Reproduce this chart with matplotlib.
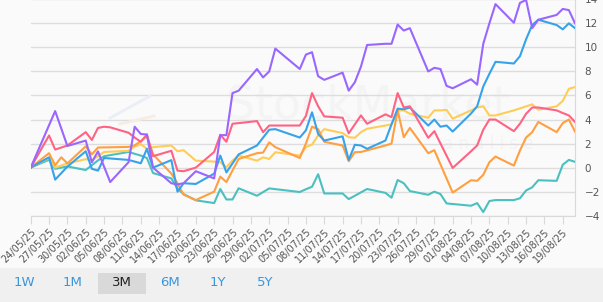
import numpy as np
import pandas as pd
import matplotlib
matplotlib.use("Agg")
import matplotlib.pyplot as plt
from matplotlib.patches import Rectangle
from matplotlib.lines import Line2D

# Dados (variação %), datas dd/mm de 2025
roxo_datas = ["24/05", "28/05", "30/05", "02/06", "03/06", "04/06", "06/06", "09/06", "10/06", "11/06",
              "12/06", "13/06", "16/06", "17/06", "18/06", "20/06", "23/06", "24/06", "25/06", "26/06",
              "27/06", "30/06", "01/07", "02/07", "03/07", "07/07", "08/07", "09/07", "10/07", "11/07",
              "14/07", "15/07", "16/07", "17/07", "18/07", "21/07", "22/07", "23/07", "24/07", "25/07",
              "28/07", "29/07", "30/07", "31/07", "01/08", "04/08", "05/08", "06/08", "07/08", "08/08",
              "11/08", "12/08", "13/08", "14/08", "15/08", "18/08", "19/08", "20/08", "21/08"]
roxo = [0, 4.7, 1.8, 2.25, 0.45, 1.35, -1.2, 0.45, 3.4, 2.8,
        2.75, 0.0, -1.3, -1.4, -1.3, -0.3, -0.9, 2.7, 2.7, 6.2,
        6.4, 8.2, 7.5, 8.0, 9.9, 8.2, 9.4, 9.6, 7.6, 7.3,
        7.9, 6.4, 7.1, 8.4, 10.2, 10.3, 10.3, 11.9, 11.4, 11.6,
        8.0, 8.3, 8.2, 6.8, 6.6, 7.35, 6.9, 10.3, 12.0, 13.6,
        12.05, 13.7, 13.95, 11.6, 12.3, 12.7, 13.2, 13.1, 12.0]

azul_datas = ["24/05", "27/05", "28/05", "30/05", "02/06", "03/06", "04/06", "05/06", "09/06", "11/06",
              "12/06", "13/06", "16/06", "17/06", "18/06", "20/06", "23/06", "24/06", "25/06", "27/06",
              "30/06", "02/07", "03/07", "07/07", "08/07", "09/07", "10/07", "11/07", "14/07", "15/07",
              "16/07", "17/07", "18/07", "21/07", "22/07", "23/07", "24/07", "25/07", "28/07", "29/07",
              "30/07", "31/07", "01/08", "04/08", "05/08", "06/08", "07/08", "08/08", "11/08", "12/08",
              "13/08", "14/08", "15/08", "18/08", "19/08", "20/08", "21/08"]
azul = [0, 0.86, -1.0, 0.08, 1.36, -0.1, -0.25, 0.8, 0.64, 0.36,
        1.56, 0.0, 0.62, -2.0, -1.3, -1.36, -0.5, 1.0, -0.4, 1.1,
        1.84, 3.15, 3.2, 2.5, 3.1, 4.6, 2.8, 2.25, 2.6, 0.64,
        1.9, 1.84, 1.56, 2.25, 3.6, 4.9, 4.85, 5.0, 3.5, 4.0,
        3.4, 3.5, 3.0, 4.5, 5.1, 6.75, 7.8, 8.8, 8.66, 9.27,
        10.67, 11.86, 12.3, 11.86, 11.5, 12.0, 11.6]

rosa_datas = ["24/05", "27/05", "28/05", "30/05", "02/06", "03/06", "04/06", "05/06", "06/06", "09/06",
              "10/06", "11/06", "12/06", "13/06", "16/06", "17/06", "18/06", "20/06", "23/06", "24/06",
              "25/06", "26/06", "27/06", "30/06", "01/07", "02/07", "07/07", "08/07", "09/07", "10/07",
              "11/07", "14/07", "15/07", "17/07", "18/07", "21/07", "22/07", "23/07", "24/07", "25/07",
              "28/07", "29/07", "01/08", "04/08", "05/08", "06/08", "07/08", "08/08", "11/08", "12/08",
              "13/08", "14/08", "15/08", "18/08", "19/08", "20/08", "21/08"]
rosa = [0, 2.67, 1.5, 1.84, 2.95, 2.3, 3.3, 3.4, 3.35, 2.9,
        2.5, 2.15, 2.76, 0.95, 1.4, -0.25, -0.3, 0.0, 1.3, 2.73,
        2.15, 3.65, 3.7, 3.87, 2.95, 3.5, 3.5, 4.3, 6.2, 5.1,
        4.26, 4.15, 2.85, 4.34, 3.65, 4.43, 4.2, 6.2, 5.0, 5.1,
        2.48, 3.03, -0.03, 1.36, 1.84, 3.15, 4.0, 4.0, 3.03, 3.65,
        4.48, 5.0, 5.0, 4.76, 4.54, 4.34, 3.8]

laranja_datas = ["24/05", "27/05", "28/05", "29/05", "30/05", "02/06", "03/06", "04/06", "09/06", "10/06",
                 "11/06", "12/06", "13/06", "16/06", "17/06", "18/06", "20/06", "23/06", "24/06", "25/06",
                 "27/06", "30/06", "01/07", "02/07", "03/07", "07/07", "08/07", "09/07", "10/07", "11/07",
                 "14/07", "15/07", "16/07", "17/07", "21/07", "22/07", "23/07", "24/07", "25/07", "28/07",
                 "29/07", "01/08", "04/08", "05/08", "06/08", "07/08", "08/08", "11/08", "12/08", "13/08",
                 "14/08", "15/08", "18/08", "19/08", "20/08", "21/08"]
laranja = [0, 1.2, 0.2, 0.86, 0.35, 1.77, 1.1, 1.67, 1.72, 1.85,
           2.2, 2.6, 1.1, -0.5, -1.3, -2.25, -2.7, -2.0, -0.75, -1.2,
           0.72, 1.2, 1.25, 2.1, 1.7, 0.8, 2.0, 3.4, 3.2, 2.15,
           1.84, 0.53, 1.28, 1.3, 1.84, 2.0, 4.76, 2.53, 3.3, 1.2,
           1.45, -2.08, -1.05, -1.1, -0.6, 0.45, 0.92, 0.17, 1.42, 2.5,
           2.95, 3.8, 2.95, 3.7, 4.0, 3.0]

amarelo_datas = ["24/05", "27/05", "28/05", "30/05", "02/06", "03/06", "05/06", "09/06", "10/06", "11/06",
                 "12/06", "13/06", "16/06", "17/06", "18/06", "20/06", "23/06", "24/06", "25/06", "26/06",
                 "27/06", "30/06", "01/07", "02/07", "03/07", "07/07", "08/07", "09/07", "10/07", "11/07",
                 "14/07", "15/07", "16/07", "17/07", "18/07", "21/07", "22/07", "23/07", "24/07", "25/07",
                 "28/07", "29/07", "30/07", "31/07", "01/08", "04/08", "05/08", "06/08", "07/08", "08/08",
                 "11/08", "14/08", "15/08", "18/08", "19/08", "20/08", "21/08"]
amarelo = [0, 0.8, 0.0, 0.35, 0.7, 0.6, 1.3, 1.4, 1.75, 1.95,
           1.56, 1.7, 1.84, 1.36, 1.45, 0.58, 0.5, 0.45, 0.03, 0.6,
           1.0, 0.58, 0.85, 0.72, 1.28, 1.0, 1.7, 1.92, 2.67, 3.2,
           2.87, 2.53, 2.48, 2.95, 3.23, 3.5, 3.6, 4.76, 4.76, 4.48,
           4.15, 4.76, 4.76, 4.8, 4.07, 4.76, 5.0, 5.1, 4.34, 4.34,
           4.76, 5.26, 4.82, 5.1, 5.55, 6.55, 6.7]

verde_datas = ["24/05", "27/05", "28/05", "30/05", "02/06", "04/06", "05/06", "09/06", "11/06", "12/06",
               "13/06", "16/06", "17/06", "18/06", "20/06", "23/06", "24/06", "25/06", "26/06", "27/06",
               "30/06", "02/07", "07/07", "08/07", "09/07", "10/07", "11/07", "14/07", "15/07", "18/07",
               "21/07", "22/07", "23/07", "24/07", "25/07", "28/07", "29/07", "30/07", "31/07", "04/08",
               "05/08", "06/08", "07/08", "08/08", "11/08", "12/08", "13/08", "14/08", "15/08", "18/08",
               "19/08", "20/08", "21/08"]
verde = [0, 0.65, -0.1, 0.1, -0.2, 0.6, 0.95, 1.3, 1.0, 0.8,
         -0.45, -0.9, -1.75, -2.2, -2.72, -2.95, -1.78, -2.65, -2.65, -1.72,
         -2.34, -1.73, -2.03, -1.8, -1.59, -0.55, -2.15, -2.15, -2.62, -1.78,
         -2.1, -2.5, -1.03, -1.3, -1.95, -2.26, -2.0, -2.2, -2.98, -3.17,
         -2.95, -3.7, -2.78, -2.7, -2.7, -2.55, -1.9, -1.64, -1.05, -1.1,
         0.24, 0.64, 0.48]

botoes = ["1W", "1M", "3M", "6M", "1Y", "5Y"]


def datas(lista):
    return pd.to_datetime([d + "/2025" for d in lista], format="%d/%m/%Y")


series = [
    (verde_datas, verde, "#4bc0c0"),
    (amarelo_datas, amarelo, "#ffcd56"),
    (laranja_datas, laranja, "#ff9f40"),
    (azul_datas, azul, "#36a2eb"),
    (rosa_datas, rosa, "#ff6384"),
    (roxo_datas, roxo, "#9966ff"),
]

fig = plt.figure(figsize=(6.03, 3.02), dpi=100, facecolor="#fafafa")
ax = fig.add_axes([30.7 / 603, 86.3 / 302, 544.3 / 603, 216.4 / 302])
ax.set_facecolor("#fafafa")

# marca d'água (bem clara)
ax.text(0.62, 0.505, "StockMarket", transform=ax.transAxes, fontsize=33,
        color="#f4f4f4", ha="center", va="center", zorder=0)
ax.text(0.84, 0.33, "a n á l i s e", transform=ax.transAxes, fontsize=12,
        color="#f3f3f3", ha="center", va="center", zorder=0)
fig.add_artist(Line2D([110 / 603, 150 / 603], [1 - 118 / 302, 1 - 96 / 302],
                      color="#eaeef5", lw=2))
fig.add_artist(Line2D([120 / 603, 154 / 603], [1 - 124 / 302, 1 - 116 / 302],
                      color="#f7ece2", lw=2))

for d, v, c in series:
    ax.plot(datas(d), v, color=c, lw=1.5, solid_joinstyle="round", zorder=3)

inicio = pd.Timestamp("2025-05-24")
fim = pd.Timestamp("2025-08-21")
ax.set_xlim(inicio, fim)
ax.set_ylim(-4, 14)

ticks_x = pd.date_range(inicio, "2025-08-19", freq="3D")
ax.set_xticks(ticks_x)
ax.set_xticklabels([t.strftime("%d/%m/%y") for t in ticks_x], rotation=45,
                   ha="right", va="top", rotation_mode="anchor",
                   fontsize=7, color="#555555")
ax.set_yticks(np.arange(-4, 15, 2))
ax.yaxis.tick_right()
ax.tick_params(axis="y", length=0, pad=7, labelsize=7.5, labelcolor="#555555")
ax.tick_params(axis="x", length=6, color="#d9d9d9", pad=2)
ax.grid(axis="y", color="#dddddd", lw=1)
for s in ["top", "left"]:
    ax.spines[s].set_visible(False)
ax.spines["right"].set_color("#d9d9d9")
ax.spines["bottom"].set_color("#d9d9d9")

# barra de períodos
fig.add_artist(Rectangle((0, 0), 1, 34 / 302, transform=fig.transFigure,
                         facecolor="#f0f0f0", edgecolor="none", zorder=0))
fig.add_artist(Rectangle((98 / 603, 8 / 302), 48 / 603, 21.5 / 302,
                         transform=fig.transFigure, facecolor="#d9d9d9",
                         edgecolor="none", zorder=1))
xs_botoes = [24, 73, 122, 170, 218, 265]
for b, xb in zip(botoes, xs_botoes):
    fig.text(xb / 603, 1 - 282 / 302, b, ha="center", va="center", fontsize=9.5,
             color="#222222" if b == "3M" else "#3c96dc", zorder=2)

fig.savefig("out.png", dpi=100, facecolor=fig.get_facecolor())
